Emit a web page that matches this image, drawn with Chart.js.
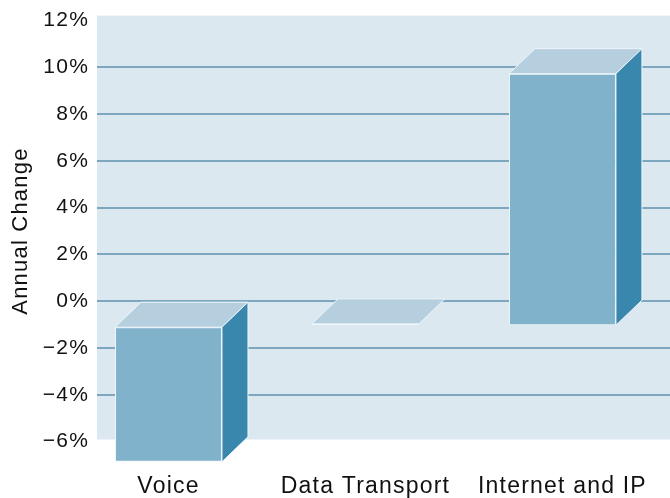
<!DOCTYPE html>
<html>
<head>
<meta charset="utf-8">
<script src="https://cdn.jsdelivr.net/npm/chart.js@4/dist/chart.umd.min.js"></script>
<style>
html,body{margin:0;padding:0;background:#fff;}
#wrap{width:670px;height:498px;}
</style>
</head>
<body>
<div id="wrap"><canvas id="c" width="670" height="498"></canvas></div>
<script>
const categories = ["Voice", "Data Transport", "Internet and IP"];
const annualChange = [-5.8, 0.1, 10.8];
const yTicks = [12, 10, 8, 6, 4, 2, 0, -2, -4, -6];

const DX = 26, DY = 25;
const FRONT = '#80b2cc', TOP = '#b5cfdf', SIDE = '#3a87ae', EDGE = '#eef6fa';
const SPACING = '1.2px';

const bar3d = {
  id: 'bar3d',
  beforeUpdate(chart) { chart.ctx.letterSpacing = SPACING; },
  beforeDraw(chart) {
    const {ctx, chartArea: a} = chart;
    ctx.letterSpacing = SPACING;
    ctx.save();
    ctx.fillStyle = '#dce8ef';
    ctx.fillRect(a.left, a.top - 5, chart.width - a.left, a.bottom - a.top + 3);
    ctx.restore();
  },
  beforeDatasetsDraw(chart) {
    chart.ctx.save();
    chart.ctx.translate(-DX, DY);
  },
  afterDatasetsDraw(chart) {
    const ctx = chart.ctx;
    const meta = chart.getDatasetMeta(0);
    meta.data.forEach(el => {
      const p = el.getProps(['x', 'y', 'base', 'width'], true);
      const L = p.x - p.width / 2, R = p.x + p.width / 2;
      const T = Math.min(p.y, p.base), B = Math.max(p.y, p.base);
      ctx.lineWidth = 1;
      ctx.strokeStyle = EDGE;
      ctx.beginPath();
      ctx.moveTo(L, T); ctx.lineTo(R, T); ctx.lineTo(R + DX, T - DY); ctx.lineTo(L + DX, T - DY); ctx.closePath();
      ctx.fillStyle = TOP; ctx.fill(); ctx.stroke();
      if (B - T > 2) {
        ctx.beginPath();
        ctx.moveTo(R, T); ctx.lineTo(R + DX, T - DY); ctx.lineTo(R + DX, B - DY); ctx.lineTo(R, B); ctx.closePath();
        ctx.fillStyle = SIDE; ctx.fill(); ctx.stroke();
      }
    });
    ctx.restore();
  }
};

new Chart(document.getElementById('c'), {
  type: 'bar',
  data: {
    datasets: [{
      data: categories.map((c, i) => ({ x: i, y: annualChange[i] })),
      backgroundColor: FRONT,
      borderColor: EDGE,
      borderWidth: 1,
      borderSkipped: false,
      categoryPercentage: 1,
      barPercentage: 0.543,
      clip: false
    }]
  },
  options: {
    responsive: false,
    animation: false,
    events: [],
    layout: { padding: { top: 8, right: 0, bottom: 0, left: 0 } },
    plugins: { legend: { display: false }, tooltip: { enabled: false } },
    scales: {
      x: {
        type: 'linear',
        offset: false,
        min: -0.495, max: 2.414,
        afterBuildTicks(scale) { scale.ticks = categories.map((c, i) => ({ value: i })); },
        afterFit(scale) { scale.height = 56.5; scale.paddingLeft = 0; scale.paddingRight = 0; },
        grid: { display: false, drawTicks: true, tickLength: 31 },
        border: { display: false },
        ticks: {
          labelOffset: -DX,
          padding: 0,
          maxRotation: 0,
          autoSkip: false,
          color: '#111',
          font: { family: 'Liberation Sans', size: 23 },
          callback: v => categories[v]
        }
      },
      y: {
        min: -6, max: 12,
        afterBuildTicks(scale) { scale.ticks = yTicks.map(v => ({ value: v })); },
        afterFit(scale) { scale.width = 97; },
        grid: {
          drawTicks: false,
          lineWidth: 2,
          color: c => (c.tick && (c.tick.value === 12 || c.tick.value === -6)) ? 'rgba(0,0,0,0)' : '#7ca7bf'
        },
        border: { display: false },
        ticks: {
          padding: 8,
          color: '#111',
          font: { family: 'Liberation Sans', size: 21 },
          callback: v => (v < 0 ? '\u2212' + Math.abs(v) : v) + '%'
        },
        title: {
          display: true,
          text: 'Annual Change',
          color: '#111',
          padding: { top: 8, bottom: 0 },
          font: { family: 'Liberation Sans', size: 22 }
        }
      }
    }
  },
  plugins: [bar3d]
});
</script>
</body>
</html>
